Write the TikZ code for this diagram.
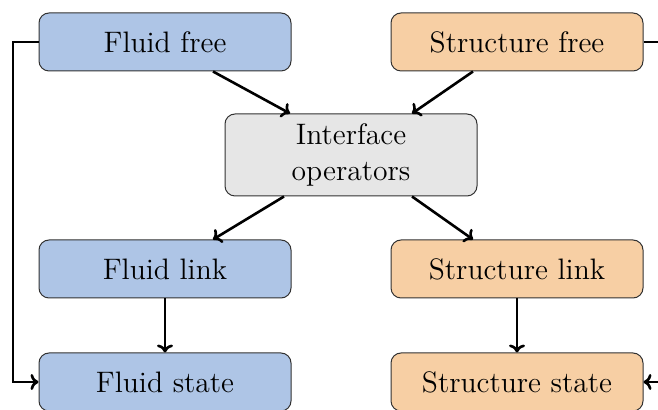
\documentclass[tikz,border=0pt]{standalone}
\usetikzlibrary{arrows.meta}
\definecolor{fluidc}{RGB}{174,197,230}
\definecolor{structc}{RGB}{247,207,164}
\definecolor{ifacec}{RGB}{230,230,230}
\definecolor{edgec}{RGB}{50,50,50}
\begin{document}
\begin{tikzpicture}[x=0.5pt,y=-0.5pt,
  boxbase/.style={draw=edgec, line width=0.5pt, rounded corners=5pt, minimum width=126pt, minimum height=29pt, inner sep=0pt, font=\fontsize{14.8}{18}\selectfont, align=center},
  fluidbox/.style={boxbase, fill=fluidc},
  structbox/.style={boxbase, fill=structc},
  ifacebox/.style={boxbase, fill=ifacec, minimum height=41pt},
  conn/.style={-{To[length=4pt,width=8pt]}, line width=1.3pt}]
\useasboundingbox (0,0) rectangle (658,410);
\clip (0,0) rectangle (658,410);
\node[fluidbox] (ff) at (165,42) {Fluid free};
\node[structbox] (sf) at (517,42) {Structure free};
\node[ifacebox] (io) at (351,155) {Interface\\operators};
\node[fluidbox] (fl) at (165,269) {Fluid link};
\node[structbox] (sl) at (517,269) {Structure link};
\node[fluidbox] (fs) at (165,382) {Fluid state};
\node[structbox] (ss) at (517,382) {Structure state};
\draw[conn] ([xshift=24pt]ff.south) -- ([xshift=-30.5pt]io.north);
\draw[conn] ([xshift=-22pt]sf.south) -- ([xshift=30.5pt]io.north);
\draw[conn] ([xshift=-33.5pt]io.south) -- ([xshift=24pt]fl.south |- fl.north);
\draw[conn] ([xshift=30.5pt]io.south) -- ([xshift=-22pt]sl.south |- sl.north);
\draw[conn] (fl) -- (fs);
\draw[conn] (sl) -- (ss);
\coordinate (lc1) at (13,42);
\coordinate (lc2) at (13,382);
\draw[conn] (ff.west) -- (lc1) -- (lc2) -- (fs.west);
\coordinate (rc1) at (672,42);
\coordinate (rc2) at (672,382);
\draw[conn] (sf.east) -- (rc1) -- (rc2) -- (ss.east);
\end{tikzpicture}
\end{document}
